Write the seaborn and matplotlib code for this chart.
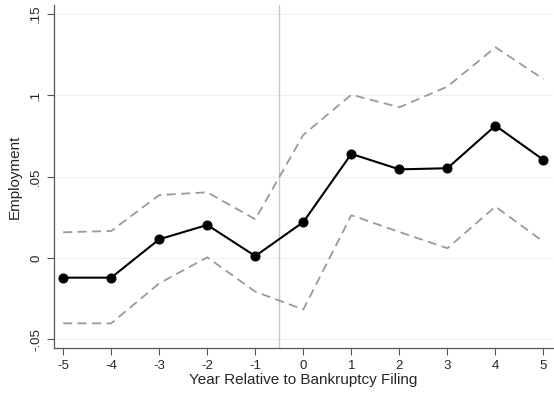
import numpy as np
import pandas as pd
import matplotlib
matplotlib.use("Agg")
import matplotlib.pyplot as plt
import seaborn as sns
from matplotlib.ticker import FuncFormatter

# ── Data ─────────────────────────────────────────────────────────────────────
years = [-5, -4, -3, -2, -1, 0, 1, 2, 3, 4, 5]
estimate = [-0.0121, -0.0121, 0.0115, 0.0203, 0.0012, 0.0221,
            0.0640, 0.0545, 0.0552, 0.0814, 0.0603]
ci_upper = [0.0158, 0.0166, 0.0387, 0.0404, 0.0238, 0.0757,
            0.1004, 0.0927, 0.1054, 0.1296, 0.1100]
ci_lower = [-0.0402, -0.0402, -0.0156, 0.0004, -0.0207, -0.0317,
            0.0263, 0.0160, 0.0060, 0.0316, 0.0100]
y_ticks = [-0.05, 0, 0.05, 0.10, 0.15]

df = pd.DataFrame({"year": years, "est": estimate,
                   "hi": ci_upper, "lo": ci_lower})

sns.set_style("white")
plt.rcParams["font.family"] = ["Liberation Sans", "DejaVu Sans"]
plt.rcParams["axes.unicode_minus"] = False

fig = plt.figure(figsize=(5.54, 3.94), dpi=100)
ax = fig.add_axes([0.0975, 0.117, 0.9, 0.87])

# faint horizontal grid at tick positions
for yv in y_ticks:
    ax.axhline(yv, color="#eaf2f3", lw=0.8, zorder=0)

ax.axvline(-0.5, color="#c8c8c8", lw=1.0, zorder=1)

for col in ["hi", "lo"]:
    sns.lineplot(data=df, x="year", y=col, ax=ax, color="#9a9a9a",
                 lw=1.3, dashes=False, linestyle=(0, (5, 3)), zorder=2)
sns.lineplot(data=df, x="year", y="est", ax=ax, color="black", lw=1.5,
             marker="o", markersize=6.5, markeredgecolor="black", zorder=3)

ax.set_xlim(-5.19, 5.19)
ax.set_ylim(-0.0553, 0.1555)
ax.set_xticks(years)
ax.set_yticks(y_ticks)
ax.yaxis.set_major_formatter(FuncFormatter(
    lambda v, p: "0" if abs(v) < 1e-9 else f"{v:g}".replace("0.", ".")))
ax.tick_params(axis="both", direction="out", length=5, width=0.8,
               color="#555555", labelsize=9.5, bottom=True, left=True)
plt.setp(ax.get_yticklabels(), rotation=90, va="center")

ax.set_xlabel("Year Relative to Bankruptcy Filing", fontsize=11, labelpad=1)
ax.set_ylabel("Employment", fontsize=11, labelpad=6)

for s in ["top", "right"]:
    ax.spines[s].set_visible(False)
for s in ["left", "bottom"]:
    ax.spines[s].set_color("#555555")
    ax.spines[s].set_linewidth(0.9)

plt.savefig("out.png", dpi=100)
